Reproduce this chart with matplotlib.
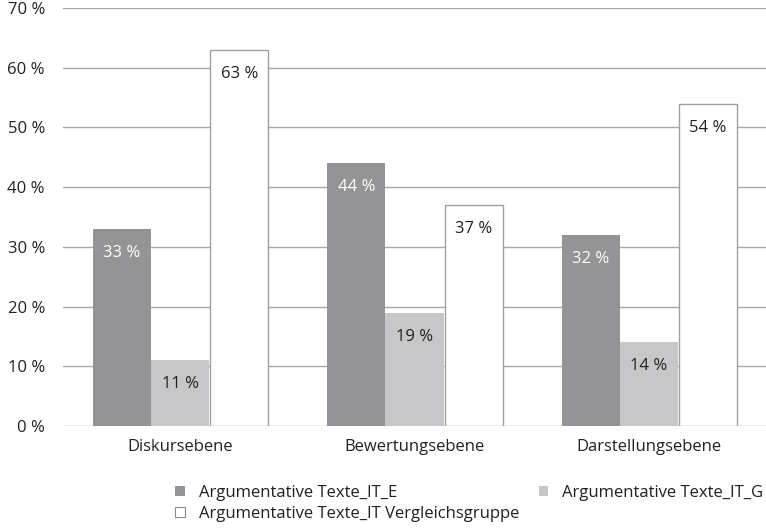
import matplotlib

matplotlib.use("Agg")
import matplotlib.pyplot as plt
import numpy as np
from matplotlib.patches import Patch

categories = ["Diskursebene", "Bewertungsebene", "Darstellungsebene"]
series_names = [
    "Argumentative Texte_IT_E",
    "Argumentative Texte_IT_G",
    "Argumentative Texte_IT Vergleichsgruppe",
]
values_e = [33, 44, 32]
values_g = [11, 19, 14]
values_v = [63, 37, 54]
y_ticks = [0, 10, 20, 30, 40, 50, 60, 70]

DARK = "#949497"
LIGHT = "#c7c7c9"
EDGE = "#a0a0a2"
GRID = "#a8a8aa"
TEXT = "#231f20"

plt.rcParams["font.family"] = ["Open Sans", "DejaVu Sans"]
plt.rcParams["font.size"] = 12

fig = plt.figure(figsize=(7.66, 5.28), dpi=100)
ax = fig.add_axes([0.0822, 0.193, 0.918, 0.792])

x = np.arange(len(categories))
width = 0.248
styles = [
    (values_e, -width, DARK, "none", "white"),
    (values_g, 0.0, LIGHT, "none", TEXT),
    (values_v, width + 0.004, "white", EDGE, TEXT),
]
for vals, offset, color, edge, label_color in styles:
    bars = ax.bar(x + offset, vals, width, color=color, edgecolor=edge,
                  linewidth=1.0, zorder=3)
    for bar, v in zip(bars, vals):
        ax.annotate(f"{v} %", (bar.get_x() + bar.get_width() / 2, v),
                    xytext=(0, -24), textcoords="offset pixels",
                    ha="center", va="center", color=label_color, zorder=4)

ax.set_xlim(-0.5, len(categories) - 0.5)
ax.set_ylim(0, 70)
ax.set_yticks(y_ticks)
ax.set_yticklabels([f"{t} %" for t in y_ticks], color=TEXT)
ax.set_xticks(x)
ax.set_xticklabels(categories, color=TEXT)
ax.tick_params(axis="y", length=0, pad=13)
ax.tick_params(axis="x", length=0, pad=9.5)
ax.grid(axis="y", color=GRID, linewidth=1.0, zorder=0)
ax.set_axisbelow(True)
for spine in ax.spines.values():
    spine.set_visible(False)

# ncol=2 fills column-wise, so order entries to get E | G on the first row
handles = [
    Patch(facecolor=DARK, edgecolor="none"),
    Patch(facecolor="white", edgecolor="#8a8a8c", linewidth=0.8),
    Patch(facecolor=LIGHT, edgecolor="none"),
]
labels = [series_names[0], series_names[2], series_names[1]]
fig.legend(handles, labels, ncol=2, frameon=False, loc="upper left",
           bbox_to_anchor=(0.229, 0.082),
           handlelength=0.55, handleheight=0.55, handletextpad=0.85,
           columnspacing=1.2, labelspacing=0.3, borderaxespad=0, borderpad=0,
           labelcolor=TEXT)

fig.savefig("out.png", dpi=100)
